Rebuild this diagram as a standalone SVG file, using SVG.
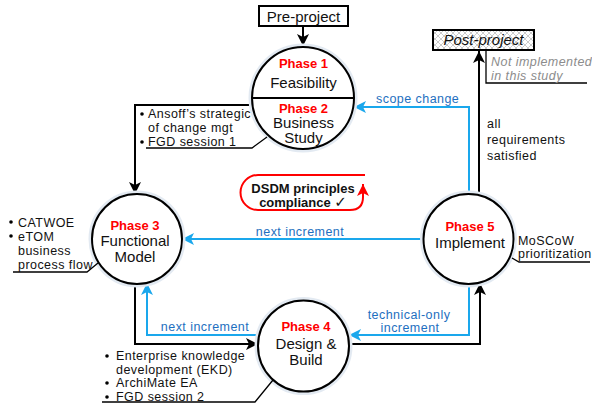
<svg xmlns="http://www.w3.org/2000/svg" width="592" height="406" viewBox="0 0 592 406">
<style>
text{font-family:"Liberation Sans",Arial,sans-serif;}
.ph{font-size:13px;font-weight:bold;fill:#ff0000;text-anchor:middle;}
.lb{font-size:15px;fill:#111;text-anchor:middle;}
.sm{font-size:12.5px;fill:#111;letter-spacing:0.45px;}
.bl{font-size:12.5px;fill:#1e6fc0;letter-spacing:0.45px;}
.circ{fill:#fff;stroke:#000;stroke-width:2;}
.halo{fill:none;stroke:#e3eaf2;stroke-width:5;}
.k{fill:none;stroke:#000;stroke-width:2;}
.b{fill:none;stroke:#1aa7ec;stroke-width:2;}
.ann{fill:none;stroke:#000;stroke-width:1.3;}
</style>
<defs>
<marker id="ak" viewBox="0 0 10 10" refX="10" refY="5" markerWidth="6" markerHeight="6" markerUnits="strokeWidth" orient="auto">
<path d="M0,0 L10,5 L0,10 L2.5,5 Z" fill="#000"/>
</marker>
<marker id="ab" viewBox="0 0 10 10" refX="10" refY="5" markerWidth="6" markerHeight="6" markerUnits="strokeWidth" orient="auto">
<path d="M0,0 L10,5 L0,10 L2.5,5 Z" fill="#1aa7ec"/>
</marker>
<marker id="ar" viewBox="0 0 10 10" refX="10" refY="5" markerWidth="6" markerHeight="6" markerUnits="strokeWidth" orient="auto">
<path d="M0,0 L10,5 L0,10 L2.5,5 Z" fill="#ff0000"/>
</marker>
<pattern id="hatch" width="6" height="6" patternUnits="userSpaceOnUse">
<rect width="6" height="6" fill="#fff"/>
<path d="M0,0 L6,6 M6,0 L0,6" stroke="#b4b4b4" stroke-width="0.7"/>
</pattern>
</defs>

<g id="connectors">
<line class="k" x1="303" y1="26" x2="303" y2="46" marker-end="url(#ak)"/>
<polyline class="k" points="252,105 135,105 135,194" marker-end="url(#ak)"/>
<polyline class="b" points="469,194 469,107 354,107" marker-end="url(#ab)"/>
<text class="bl" x="376" y="103">scope change</text>
<line class="k" x1="479" y1="195" x2="479" y2="51" marker-end="url(#ak)"/>
<text class="sm" x="487" y="128">all</text>
<text class="sm" x="487" y="144">requirements</text>
<text class="sm" x="487" y="160">satisfied</text>
<line class="b" x1="424" y1="239" x2="182" y2="239" marker-end="url(#ab)"/>
<text class="bl" x="300" y="236" text-anchor="middle">next increment</text>
<polyline class="k" points="135,284 135,344 258,344" marker-end="url(#ak)"/>
<polyline class="b" points="259,335 147,335 147,283" marker-end="url(#ab)"/>
<text class="bl" x="205" y="331" text-anchor="middle">next increment</text>
<polyline class="k" points="349,344 480,344 480,283" marker-end="url(#ak)"/>
<polyline class="b" points="469,284 469,335 349,335" marker-end="url(#ab)"/>
<text class="bl" x="409" y="319" text-anchor="middle">technical-only</text>
<text class="bl" x="410" y="332" text-anchor="middle">increment</text>
</g>

<g id="preproject">
<rect x="259" y="6" width="89" height="20" fill="#fff" stroke="#000" stroke-width="2"/>
<text class="lb" x="303.5" y="22">Pre-project</text>
</g>

<g id="postproject">
<rect x="433" y="30" width="101" height="20" fill="url(#hatch)" stroke="#000" stroke-width="2"/>
<text class="lb" x="483.5" y="45" font-style="italic">Post-project</text>
<polyline class="ann" points="486,51 486,83 587,83"/>
<text class="sm" x="491" y="66" font-style="italic" style="fill:#8c8c8c">Not implemented</text>
<text class="sm" x="491" y="80" font-style="italic" style="fill:#8c8c8c">in this study</text>
</g>

<g id="phase12">
<circle class="halo" cx="303" cy="98" r="52"/>
<circle class="circ" cx="303" cy="98" r="51"/>
<line x1="252" y1="98" x2="354" y2="98" stroke="#000" stroke-width="2"/>
<text class="ph" x="303.5" y="68">Phase 1</text>
<text class="lb" x="303.5" y="88">Feasibility</text>
<text class="ph" x="303.5" y="113">Phase 2</text>
<text class="lb" x="303.5" y="128">Business</text>
<text class="lb" x="303.5" y="143">Study</text>
<polyline class="ann" points="146,148 252,148 267,137"/>
<circle cx="142" cy="114" r="1.8" fill="#000"/>
<text class="sm" x="148" y="118">Ansoff’s strategic</text>
<text class="sm" x="148" y="132">of change mgt</text>
<circle cx="142" cy="142" r="1.8" fill="#000"/>
<text class="sm" x="148" y="146">FGD session 1</text>
</g>

<g id="phase3">
<circle class="halo" cx="137" cy="239" r="46"/>
<circle class="circ" cx="137" cy="239" r="45"/>
<text class="ph" x="135" y="230">Phase 3</text>
<text class="lb" x="135" y="246">Functional</text>
<text class="lb" x="135" y="262">Model</text>
<polyline class="ann" points="13,272 87,272 98,263"/>
<circle cx="11" cy="222" r="1.8" fill="#000"/>
<text class="sm" x="18" y="227">CATWOE</text>
<circle cx="11" cy="236" r="1.8" fill="#000"/>
<text class="sm" x="18" y="241">eTOM</text>
<text class="sm" x="18" y="255">business</text>
<text class="sm" x="18" y="269">process flow</text>
</g>

<g id="phase4">
<circle class="halo" cx="303.5" cy="346" r="46.5"/>
<circle class="circ" cx="303.5" cy="346" r="45.5"/>
<text class="ph" x="306" y="331">Phase 4</text>
<text class="lb" x="306" y="349">Design &amp;</text>
<text class="lb" x="306" y="365">Build</text>
<polyline class="ann" points="102,402 255,402 273,380"/>
<circle cx="107" cy="356" r="1.8" fill="#000"/>
<text class="sm" x="116" y="360">Enterprise knowledge</text>
<text class="sm" x="116" y="374">development (EKD)</text>
<circle cx="107" cy="383" r="1.8" fill="#000"/>
<text class="sm" x="116" y="387">ArchiMate EA</text>
<circle cx="107" cy="397" r="1.8" fill="#000"/>
<text class="sm" x="116" y="401">FGD session 2</text>
</g>

<g id="phase5">
<circle class="halo" cx="468.5" cy="239" r="46"/>
<circle class="circ" cx="468.5" cy="239" r="45"/>
<text class="ph" x="470" y="231">Phase 5</text>
<text class="lb" x="470" y="248">Implement</text>
<polyline class="ann" points="512,258 519,262 590,262"/>
<text class="sm" x="518" y="245">MoSCoW</text>
<text class="sm" x="518" y="258">prioritization</text>
</g>

<g id="dsdm">
<path d="M365,175 H258 A17.5,17.5 0 0 0 258,210 H350 Q363,210 363,197 V184" fill="none" stroke="#ff0000" stroke-width="2" marker-end="url(#ar)"/>
<text x="303" y="193" text-anchor="middle" font-size="13" font-weight="bold" fill="#111">DSDM principles</text>
<text x="303" y="207" text-anchor="middle" font-size="13" font-weight="bold" fill="#111">compliance <tspan font-family="'DejaVu Sans',sans-serif" font-size="15" font-weight="normal">✓</tspan></text>
</g>
</svg>
